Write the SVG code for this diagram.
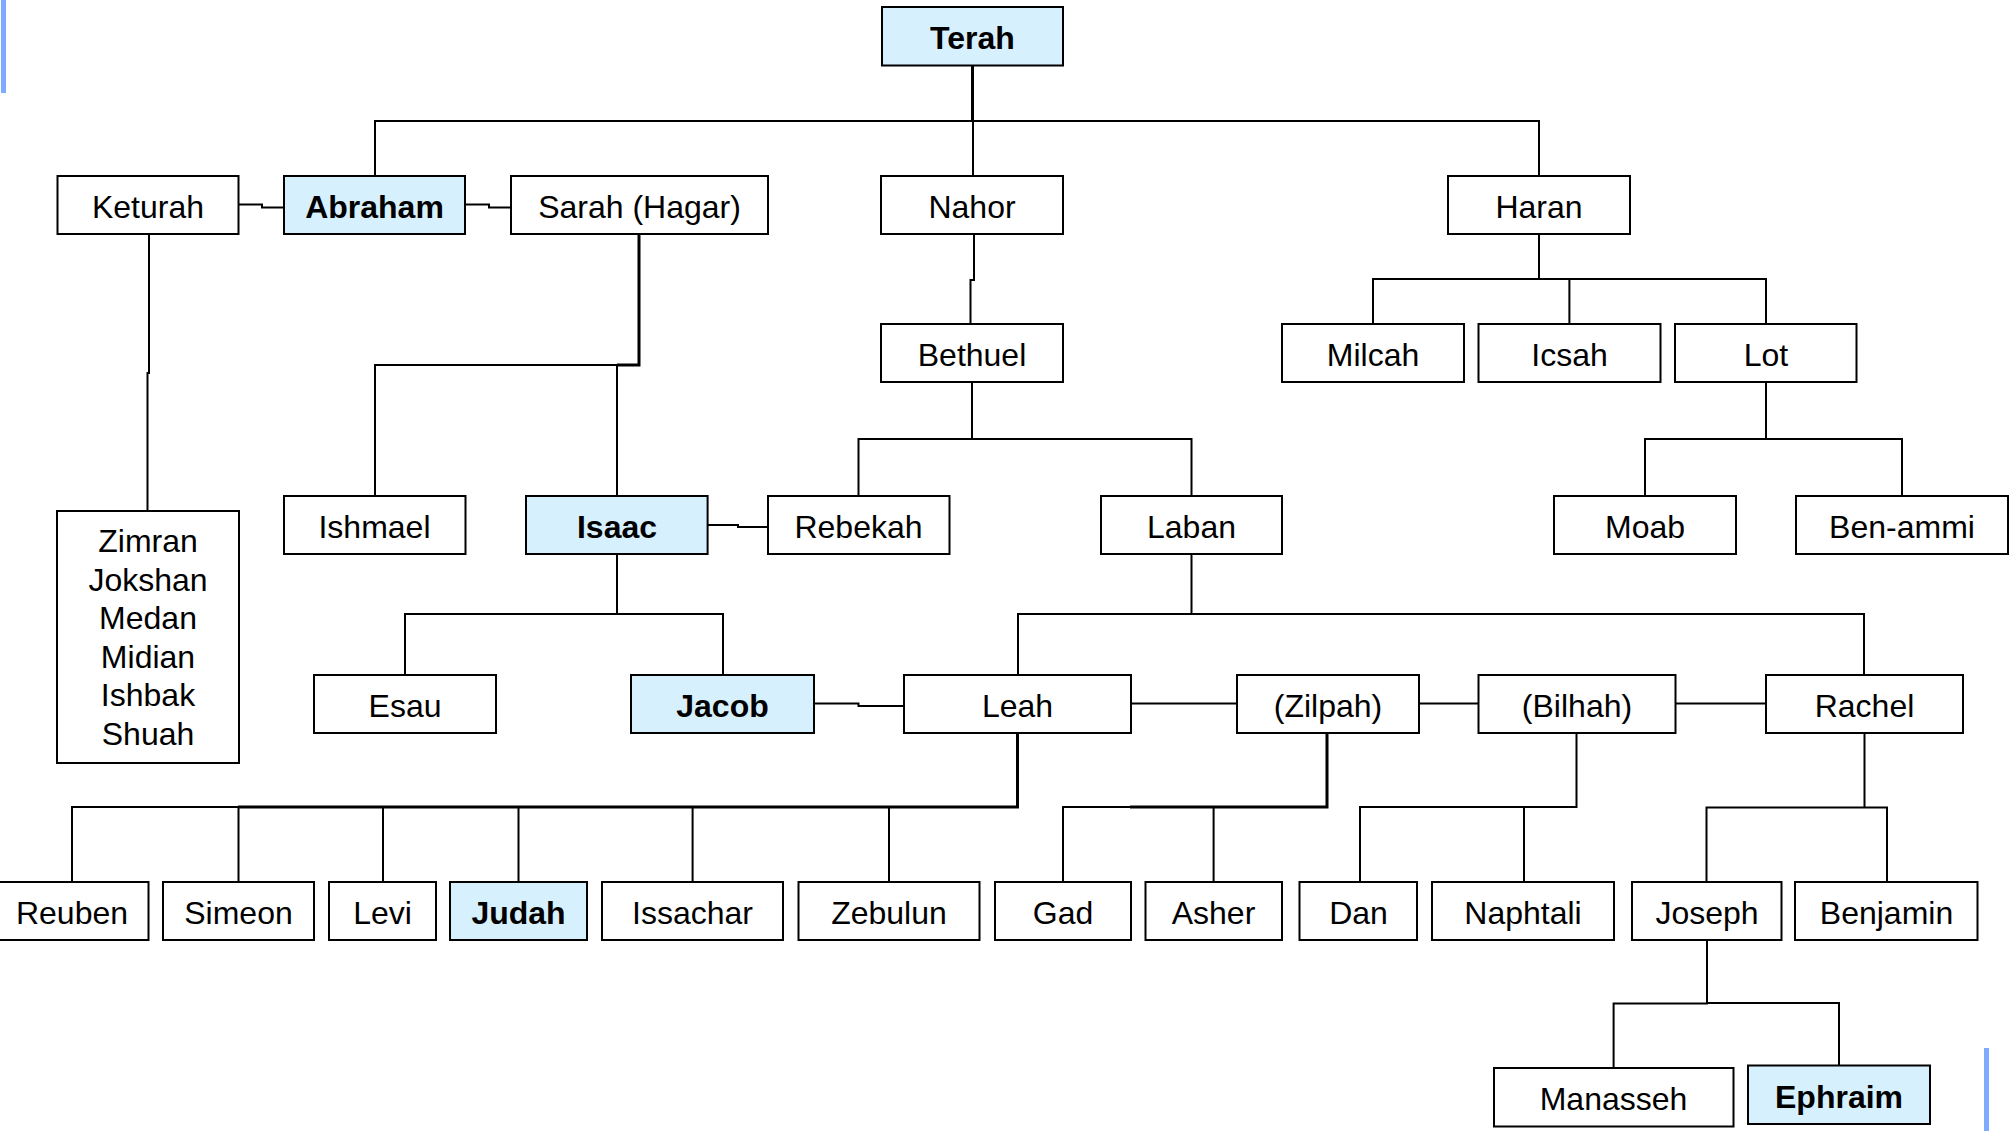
<svg xmlns="http://www.w3.org/2000/svg" width="2010" height="1131" viewBox="0 0 2010 1131">
<style>
.bx{fill:#fff;stroke:#000;stroke-width:2}
.hl{fill:#d6f0fd;stroke:#000;stroke-width:2}
.t{font-family:"Liberation Sans",Arial,sans-serif;font-size:32px;text-anchor:middle;fill:#000}
.b{font-weight:bold}
.c{fill:none;stroke:#000;stroke-width:2}
.c3{fill:none;stroke:#000;stroke-width:3}
.bar{fill:#7eabff}
</style>
<rect width="2010" height="1131" fill="#fff"/>
<rect class="bar" x="1" y="0" width="5" height="93"/>
<rect class="bar" x="1984" y="1048" width="5" height="83"/>
<g id="connectors">
<path class="c3" d="M972.5 66V121"/>
<path class="c" d="M375 176V121H1539V176M973 121V176"/>
<path class="c" d="M238.5 204.5H262V207.5H284M465 204.5H489V207.5H511"/>
<path class="c" d="M149 234V373H147.5V511"/>
<path class="c3" d="M639 234V365H617"/>
<path class="c" d="M617 365H375V496M617 365V496"/>
<path class="c" d="M974 234V280H970.5V324"/>
<path class="c" d="M972 382V439M858.5 496V439H1191.5V496"/>
<path class="c" d="M707.6 525H738V527H768"/>
<path class="c" d="M1539 234V279M1373 324V279H1766V324M1569.4 279V324"/>
<path class="c" d="M1766 382V439M1645 496V439H1902V496"/>
<path class="c" d="M617 554V614M405 675V614H723V675"/>
<path class="c" d="M1191.5 554V614M1018 675V614H1864V675"/>
<path class="c" d="M814 703.5H858.5V706H904M1131 703.5H1237M1419 703.5H1478M1675 703.5H1766"/>
<path class="c3" d="M1017.5 733V807H238"/>
<path class="c" d="M238 807H72V882M238.5 807V882M383 807V882M518.5 807V882M692.6 807V882M889 807V882"/>
<path class="c3" d="M1327 733V807H1130"/>
<path class="c" d="M1130 807H1063V882M1213.6 807V882"/>
<path class="c" d="M1576.5 733V807H1360V882M1524 807V882"/>
<path class="c" d="M1864.5 733V807.5M1706.5 882V807.5H1887V882"/>
<path class="c" d="M1707 940V1003.5H1613.6V1068M1707 1003H1839V1065"/>
</g>
<g id="n-terah"><rect class="hl" x="882" y="7" width="181" height="58.5"/><text class="t b" x="972.5" y="49">Terah</text></g>
<g id="n-keturah"><rect class="bx" x="57.5" y="176" width="181" height="58"/><text class="t" x="148" y="218">Keturah</text></g>
<g id="n-abraham"><rect class="hl" x="284" y="176" width="181" height="58"/><text class="t b" x="374.5" y="218">Abraham</text></g>
<g id="n-sarah"><rect class="bx" x="511" y="176" width="257" height="58"/><text class="t" x="639.5" y="218">Sarah (Hagar)</text></g>
<g id="n-nahor"><rect class="bx" x="881" y="176" width="182" height="58"/><text class="t" x="972" y="218">Nahor</text></g>
<g id="n-haran"><rect class="bx" x="1448" y="176" width="182" height="58"/><text class="t" x="1539" y="218">Haran</text></g>
<g id="n-bethuel"><rect class="bx" x="881" y="324" width="182" height="58"/><text class="t" x="972" y="366">Bethuel</text></g>
<g id="n-milcah"><rect class="bx" x="1282" y="324" width="182" height="58"/><text class="t" x="1373" y="366">Milcah</text></g>
<g id="n-icsah"><rect class="bx" x="1478.5" y="324" width="182" height="58"/><text class="t" x="1569.5" y="366">Icsah</text></g>
<g id="n-lot"><rect class="bx" x="1675" y="324" width="181.5" height="58"/><text class="t" x="1766" y="366">Lot</text></g>
<g id="n-keturah-sons"><rect class="bx" x="57" y="511" width="182" height="252"/>
<text class="t" x="148" y="552">Zimran</text>
<text class="t" x="148" y="590.5">Jokshan</text>
<text class="t" x="148" y="629">Medan</text>
<text class="t" x="148" y="667.5">Midian</text>
<text class="t" x="148" y="706">Ishbak</text>
<text class="t" x="148" y="744.5">Shuah</text></g>
<g id="n-ishmael"><rect class="bx" x="284" y="496" width="181.5" height="58"/><text class="t" x="374.5" y="538">Ishmael</text></g>
<g id="n-isaac"><rect class="hl" x="526" y="496" width="181.6" height="58"/><text class="t b" x="617" y="538">Isaac</text></g>
<g id="n-rebekah"><rect class="bx" x="768" y="496" width="181.5" height="58"/><text class="t" x="858.5" y="538">Rebekah</text></g>
<g id="n-laban"><rect class="bx" x="1101" y="496" width="181" height="58"/><text class="t" x="1191.5" y="538">Laban</text></g>
<g id="n-moab"><rect class="bx" x="1554" y="496" width="182" height="58"/><text class="t" x="1645" y="538">Moab</text></g>
<g id="n-benammi"><rect class="bx" x="1796" y="496" width="212" height="58"/><text class="t" x="1902" y="538">Ben-ammi</text></g>
<g id="n-esau"><rect class="bx" x="314" y="675" width="182" height="58"/><text class="t" x="405" y="717">Esau</text></g>
<g id="n-jacob"><rect class="hl" x="631" y="675" width="183" height="58"/><text class="t b" x="722.5" y="717">Jacob</text></g>
<g id="n-leah"><rect class="bx" x="904" y="675" width="227" height="58"/><text class="t" x="1017.5" y="717">Leah</text></g>
<g id="n-zilpah"><rect class="bx" x="1237" y="675" width="182" height="58"/><text class="t" x="1328" y="717">(Zilpah)</text></g>
<g id="n-bilhah"><rect class="bx" x="1478.5" y="675" width="197" height="58"/><text class="t" x="1577" y="717">(Bilhah)</text></g>
<g id="n-rachel"><rect class="bx" x="1766" y="675" width="197" height="58"/><text class="t" x="1864.5" y="717">Rachel</text></g>
<g id="n-reuben"><rect class="bx" x="-5" y="882" width="153.5" height="58"/><text class="t" x="72" y="924">Reuben</text></g>
<g id="n-simeon"><rect class="bx" x="163" y="882" width="151" height="58"/><text class="t" x="238.5" y="924">Simeon</text></g>
<g id="n-levi"><rect class="bx" x="329" y="882" width="107" height="58"/><text class="t" x="382.5" y="924">Levi</text></g>
<g id="n-judah"><rect class="hl" x="450" y="882" width="137" height="58"/><text class="t b" x="518.5" y="924">Judah</text></g>
<g id="n-issachar"><rect class="bx" x="602" y="882" width="181" height="58"/><text class="t" x="692.5" y="924">Issachar</text></g>
<g id="n-zebulun"><rect class="bx" x="798.5" y="882" width="181" height="58"/><text class="t" x="889" y="924">Zebulun</text></g>
<g id="n-gad"><rect class="bx" x="995" y="882" width="136" height="58"/><text class="t" x="1063" y="924">Gad</text></g>
<g id="n-asher"><rect class="bx" x="1145.5" y="882" width="136.5" height="58"/><text class="t" x="1213.5" y="924">Asher</text></g>
<g id="n-dan"><rect class="bx" x="1299.5" y="882" width="117.5" height="58"/><text class="t" x="1358.5" y="924">Dan</text></g>
<g id="n-naphtali"><rect class="bx" x="1432" y="882" width="182" height="58"/><text class="t" x="1523" y="924">Naphtali</text></g>
<g id="n-joseph"><rect class="bx" x="1632" y="882" width="149.5" height="58"/><text class="t" x="1707" y="924">Joseph</text></g>
<g id="n-benjamin"><rect class="bx" x="1795" y="882" width="182.5" height="58"/><text class="t" x="1886.5" y="924">Benjamin</text></g>
<g id="n-manasseh"><rect class="bx" x="1494" y="1068" width="239.5" height="58.5"/><text class="t" x="1613.5" y="1110">Manasseh</text></g>
<g id="n-ephraim"><rect class="hl" x="1748" y="1065.5" width="182" height="58.5"/><text class="t b" x="1839" y="1107.5">Ephraim</text></g>
</svg>
